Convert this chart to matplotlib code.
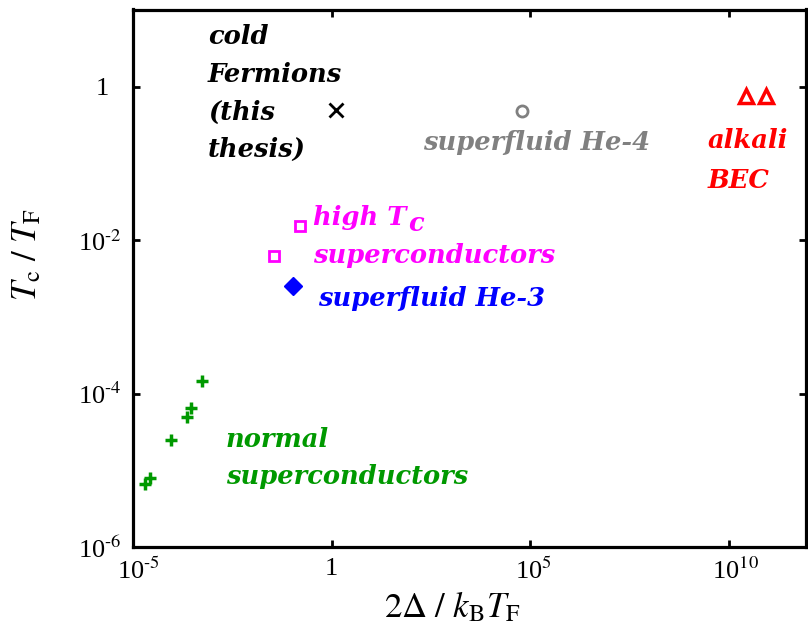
import matplotlib
matplotlib.use("Agg")
import matplotlib.pyplot as plt
import matplotlib.transforms as mtrans
import numpy as np
from matplotlib.ticker import FixedLocator, FixedFormatter, NullLocator

plt.rcParams['font.family'] = ['Liberation Serif', 'DejaVu Serif']
plt.rcParams['mathtext.fontset'] = 'stix'

# data (log10 values)
normal_x = [10**-3.26, 10**-3.55, 10**-3.64, 10**-4.04, 10**-4.58, 10**-4.69]
normal_y = [10**-3.83, 10**-4.19, 10**-4.31, 10**-4.60, 10**-5.10, 10**-5.18]
hightc_x = [10**-0.79, 10**-1.44]
hightc_y = [10**-1.81, 10**-2.20]
he3_x = [10**-0.965]
he3_y = [10**-2.59]
he4_x = [10**4.80]
he4_y = [10**-0.32]
bec_x = [10**10.43, 10**10.93]
bec_y = [10**-0.12, 10**-0.12]
fermi_x = [10**0.11]
fermi_y = [10**-0.30]

xticks = [1e-5, 1, 1e5, 1e10]
xtick_labels = ['10$^{\u20105}$', '1', '10$^{5}$', '10$^{10}$']
yticks = [1e-6, 1e-4, 1e-2, 1]
ytick_labels = ['10$^{\u20106}$', '10$^{\u20104}$', '10$^{\u20102}$', '1']

W, H = 808, 644
L, R, T, B = 133, 806, 9.5, 547
fig = plt.figure(figsize=(W/100, H/100), dpi=100)
ax = fig.add_axes([L/W, (H-B)/H, (R-L)/W, (B-T)/H])
ax.set_xscale('log')
ax.set_yscale('log')
ax.set_xlim(1e-5, 10**11.94)
ax.set_ylim(1e-6, 10**1.01)

ax.plot(normal_x, normal_y, '+', color='#009900', ms=9, mew=2.5, ls='none')
ax.plot(hightc_x, hightc_y, 's', mfc='none', mec='#ff00ff', ms=7, mew=2, ls='none')
ax.plot(he3_x, he3_y, 'D', color='#0000ff', ms=9, ls='none')
ax.plot(he4_x, he4_y, 'o', mfc='none', mec='#808080', ms=8, mew=2, ls='none')
ax.plot(bec_x, bec_y, '^', mfc='none', mec='#ff0000', ms=10, mew=2.5, ls='none')
ax.plot(fermi_x, fermi_y, 'x', color='black', ms=10, mew=2, ls='none')

tfont = dict(family='DejaVu Serif', style='italic', weight='bold', fontsize=18.5)

def lab(px, py, s, color):
    return ax.text((px - L) / (R - L), (B - py) / (B - T), s, color=color,
                   ha='left', va='baseline', transform=ax.transAxes, **tfont)

lab(208, 44, 'cold', 'black')
lab(208, 82, 'Fermions', 'black')
lab(208, 120, '(this', 'black')
lab(208, 157, 'thesis)', 'black')
lab(423, 150, 'superfluid He-4', '#808080')
lab(708, 148, 'alkali', '#ff0000')
lab(708, 188, 'BEC', '#ff0000')
t1 = lab(313, 225, 'high T', '#ff00ff')
ax.annotate('c', xy=(1.0, 0.0), xycoords=t1, xytext=(1, -4), textcoords='offset points',
            ha='left', va='bottom', color='#ff00ff', **tfont)
lab(313, 263, 'superconductors', '#ff00ff')
lab(318, 306, 'superfluid He-3', '#0000ff')
lab(226, 447, 'normal', '#009900')
lab(226, 484, 'superconductors', '#009900')

ax.xaxis.set_major_locator(FixedLocator(xticks))
ax.xaxis.set_major_formatter(FixedFormatter(xtick_labels))
ax.yaxis.set_major_locator(FixedLocator(yticks))
ax.yaxis.set_major_formatter(FixedFormatter(ytick_labels))
ax.xaxis.set_minor_locator(NullLocator())
ax.yaxis.set_minor_locator(NullLocator())
ax.tick_params(direction='in', length=5, width=2, top=True, right=True, labelsize=19, pad=8)
for s in ax.spines.values():
    s.set_linewidth(2.3)

# MATLAB-style alignment: base of the power label centred / right-aligned on the tick
x_shift_px = [6, 0, 3.5, 6.5]
for tk, dx in zip(ax.xaxis.get_major_ticks(), x_shift_px):
    tk.label1.set_transform(tk.label1.get_transform() +
                            mtrans.ScaledTranslation(dx / 100, 0, fig.dpi_scale_trans))
y_shift_px = [0, 0, 0, -13]
for tk, dx in zip(ax.yaxis.get_major_ticks(), y_shift_px):
    tk.label1.set_transform(tk.label1.get_transform() +
                            mtrans.ScaledTranslation(dx / 100, 0, fig.dpi_scale_trans))

ax.set_xlabel(r'$2\Delta\ /\ k_{\rm B}T_{\rm F}$', fontsize=25)
ax.set_ylabel(r'$T_{\rm c}\ /\ T_{\rm F}$', fontsize=25)
ax.xaxis.set_label_coords((452 - L) / (R - L), (B - 608) / (B - T))
ax.yaxis.set_label_coords((28 - L) / (R - L), (B - 255) / (B - T))
ax.xaxis.label.set_va('center')
ax.yaxis.label.set_va('center')

fig.savefig('out.png', dpi=100)
